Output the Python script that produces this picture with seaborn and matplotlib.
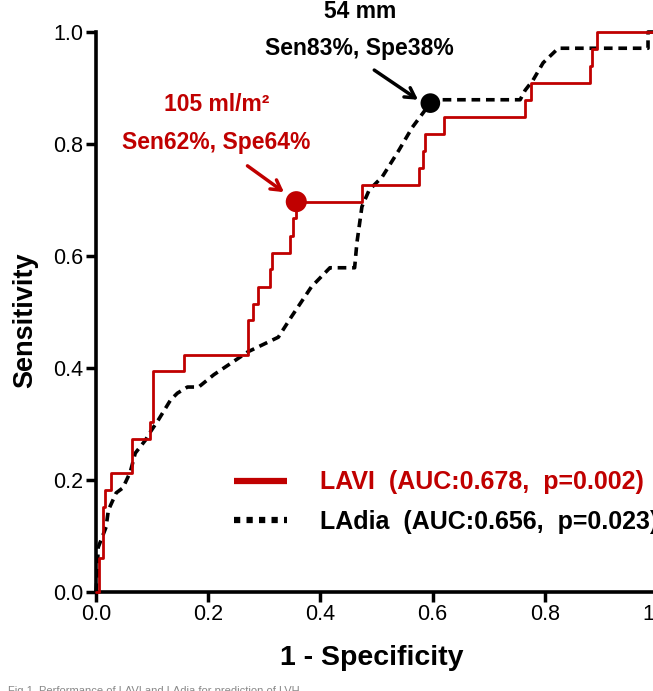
import matplotlib
matplotlib.use("Agg")
import matplotlib.pyplot as plt
from matplotlib.lines import Line2D
import seaborn as sns
import pandas as pd

# ---- data ----
lavi_fpr = [0.000, 0.005, 0.012, 0.016, 0.027, 0.065, 0.097, 0.102, 0.156, 0.271,
            0.280, 0.289, 0.311, 0.314, 0.346, 0.352, 0.357, 0.474, 0.576, 0.582,
            0.587, 0.621, 0.765, 0.775, 0.881, 0.884, 0.893, 1.000]
lavi_tpr = [0.000, 0.061, 0.152, 0.182, 0.212, 0.273, 0.303, 0.394, 0.424, 0.485,
            0.515, 0.545, 0.576, 0.606, 0.636, 0.667, 0.697, 0.727, 0.758, 0.788,
            0.818, 0.848, 0.879, 0.909, 0.939, 0.970, 1.000, 1.000]

ladia_fpr = [0.000, 0.002, 0.004, 0.018, 0.022, 0.036, 0.048, 0.061, 0.070, 0.088,
             0.097, 0.111, 0.133, 0.145, 0.163, 0.183, 0.210, 0.271, 0.325, 0.348,
             0.384, 0.417, 0.461, 0.465, 0.474, 0.487, 0.510, 0.540, 0.564, 0.596,
             0.605, 0.756, 0.765, 0.779, 0.797, 0.824, 0.984, 0.984, 1.000]
ladia_tpr = [0.000, 0.030, 0.080, 0.116, 0.146, 0.177, 0.186, 0.214, 0.248, 0.271,
             0.286, 0.307, 0.343, 0.355, 0.366, 0.366, 0.388, 0.429, 0.455, 0.491,
             0.545, 0.579, 0.579, 0.623, 0.688, 0.718, 0.741, 0.789, 0.830, 0.873,
             0.879, 0.879, 0.896, 0.914, 0.945, 0.971, 0.971, 1.000, 1.000]

cut_names = ["LAVI", "LAdia"]
cut_fpr = [0.357, 0.596]
cut_tpr = [0.697, 0.873]
cut_text1 = ["105 ml/m\u00b2", "54 mm"]
cut_text2 = ["Sen62%, Spe64%", "Sen83%, Spe38%"]

legend_labels = ["LAVI  (AUC:0.678,  p=0.002)", "LAdia  (AUC:0.656,  p=0.023)"]
ticks = [0.0, 0.2, 0.4, 0.6, 0.8, 1.0]
tick_labels = ["0.0", "0.2", "0.4", "0.6", "0.8", "1.0"]

RED = "#C00000"
BLACK = "#000000"

sns.set_style("white")
plt.rcParams["font.family"] = ["Liberation Sans", "DejaVu Sans"]
plt.rcParams["text.color"] = "black"
plt.rcParams["axes.labelcolor"] = "black"

fig = plt.figure(figsize=(6.53, 6.91), dpi=100)
ax = fig.add_axes([96 / 653, 99 / 691, 561 / 653, 560 / 691])

df_l = pd.DataFrame({"fpr": lavi_fpr, "tpr": lavi_tpr})
df_d = pd.DataFrame({"fpr": ladia_fpr, "tpr": ladia_tpr})

sns.lineplot(data=df_d, x="fpr", y="tpr", sort=False, estimator=None, ax=ax,
             color=BLACK, lw=2.6, dashes=False, linestyle=(0, (2.4, 1.6)),
             clip_on=False, zorder=3)
sns.lineplot(data=df_l, x="fpr", y="tpr", sort=False, estimator=None, ax=ax,
             color=RED, lw=2.0, drawstyle="steps-post", clip_on=False, zorder=4)

sns.scatterplot(x=[cut_fpr[0]], y=[cut_tpr[0]], ax=ax, color=RED, s=230,
                edgecolor="none", zorder=5, clip_on=False)
sns.scatterplot(x=[cut_fpr[1]], y=[cut_tpr[1]], ax=ax, color=BLACK, s=200,
                edgecolor="none", zorder=5, clip_on=False)

ax.set_xlim(0, 1)
ax.set_ylim(0, 1)
ax.set_xticks(ticks)
ax.set_xticklabels(tick_labels)
ax.set_yticks(ticks)
ax.set_yticklabels(tick_labels)
ax.tick_params(axis="both", direction="out", length=7, width=2.5, pad=2,
               labelsize=15.5, colors="black", bottom=True, left=True)
for s in ["top", "right"]:
    ax.spines[s].set_visible(False)
for s in ["bottom", "left"]:
    ax.spines[s].set_linewidth(2.6)
    ax.spines[s].set_color("black")

ax.set_xlabel("1 - Specificity", fontsize=20.5, fontweight="bold", color="black")
ax.set_ylabel("Sensitivity", fontsize=19.5, fontweight="bold", color="black")
ax.xaxis.set_label_coords(0.492, -0.118)
ax.xaxis.label.set_va("center")
ax.yaxis.set_label_coords(-0.127, 0.486)
ax.yaxis.label.set_va("center")

# annotations
ax.text(0.216, 0.870, cut_text1[0], color=RED, fontsize=16.5, fontweight="bold",
        ha="center", va="center")
ax.text(0.215, 0.802, cut_text2[0], color=RED, fontsize=16.5, fontweight="bold",
        ha="center", va="center")
ax.text(0.470, 1.036, cut_text1[1], color=BLACK, fontsize=16.5, fontweight="bold",
        ha="center", va="center")
ax.text(0.469, 0.971, cut_text2[1], color=BLACK, fontsize=16.5, fontweight="bold",
        ha="center", va="center")
ax.annotate("", xy=(0.335, 0.714), xytext=(0.270, 0.761),
            arrowprops=dict(arrowstyle="->,head_length=0.7,head_width=0.4",
                            lw=2.5, color=RED, shrinkA=0, shrinkB=0))
ax.annotate("", xy=(0.574, 0.879), xytext=(0.496, 0.932),
            arrowprops=dict(arrowstyle="->,head_length=0.7,head_width=0.4",
                            lw=2.5, color=BLACK, shrinkA=0, shrinkB=0))

# legend
handles = [Line2D([0], [0], color=RED, lw=4.5, solid_capstyle="butt"),
           Line2D([0], [0], color=BLACK, lw=4.5, linestyle=(0, (1.0, 1.0)),
                  dash_capstyle="butt")]
leg = ax.legend(handles, legend_labels, loc="center left",
                bbox_to_anchor=(222 / 653, 1 - 502 / 691),
                bbox_transform=fig.transFigure, frameon=False,
                prop={"size": 18.0, "weight": "bold"}, handlelength=2.1,
                handletextpad=1.3, labelspacing=0.6, borderpad=0,
                labelcolor=[RED, BLACK])

fig.text(8 / 653, 1 - 686 / 691,
         "Fig 1. Performance of LAVI and LAdia for prediction of LVH.",
         fontsize=8, color="#888888", ha="left", va="top")

fig.savefig("out.png", dpi=100)
